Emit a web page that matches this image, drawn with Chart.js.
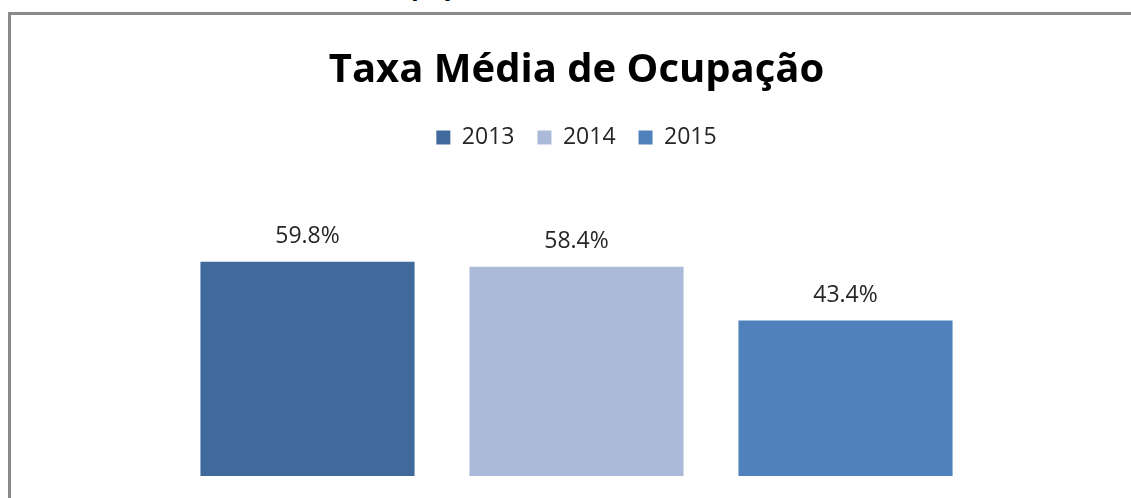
<!DOCTYPE html>
<html lang="pt">
  <head>
    <meta charset="UTF-8" />
    <title>Taxa Média de Ocupação</title>
    <script src="https://cdn.jsdelivr.net/npm/chart.js"></script>
    <style>
      html,
      body {
        margin: 0;
        padding: 0;
        width: 1131px;
        height: 498px;
        overflow: hidden;
        background: #fff;
        font-family: "Open Sans", sans-serif;
      }
      .frame {
        position: absolute;
        left: 8px;
        top: 12px;
        width: 2000px;
        height: 1000px;
        border-top: 3px solid #8a8a8a;
        border-left: 3px solid #8a8a8a;
      }
      .cut {
        position: absolute;
        left: 364px;
        top: -31px;
        font: bold 24px "Open Sans", sans-serif;
        color: #000;
        white-space: pre;
      }
      .cut span {
        position: absolute;
        right: 100%;
      }
      .chart-box {
        position: absolute;
        left: 0;
        top: 0;
        width: 1131px;
        height: 498px;
      }
    </style>
  </head>
  <body>
    <div class="cut"><span>Taxa Média de </span>Ocupação</div>
    <div class="frame"></div>
    <div class="chart-box">
      <canvas id="ocupacao"></canvas>
    </div>

    <script>
      const years = ["2013", "2014", "2015"];
      const occupancy = [59.8, 58.4, 43.4];
      const barColors = ["#406a9c", "#abbad8", "#4f81bd"];

      // draws the "59.8%" labels above each bar
      const valueLabels = {
        id: "valueLabels",
        afterDatasetsDraw(chart) {
          const ctx = chart.ctx;
          ctx.save();
          ctx.font = "23px 'Open Sans'";
          ctx.fillStyle = "#262626";
          ctx.textAlign = "center";
          ctx.textBaseline = "alphabetic";
          chart.data.datasets.forEach((ds, i) => {
            const bar = chart.getDatasetMeta(i).data[0];
            ctx.fillText(ds.data[0].toFixed(1) + "%", bar.x, bar.y - 19);
          });
          ctx.restore();
        },
      };

      new Chart(document.getElementById("ocupacao"), {
        type: "bar",
        data: {
          labels: ["Taxa"],
          datasets: years.map((y, i) => ({
            label: y,
            data: [occupancy[i]],
            backgroundColor: barColors[i],
            categoryPercentage: 1,
            barPercentage: 0.796,
          })),
        },
        options: {
          responsive: true,
          maintainAspectRatio: false,
          animation: false,
          layout: {
            padding: { left: 173, right: 151, top: 0, bottom: 22 },
          },
          plugins: {
            title: {
              display: true,
              text: "Taxa Média de Ocupação",
              color: "#000",
              font: { family: "Open Sans", size: 40, weight: "bold" },
              padding: { top: 47, bottom: 8 },
            },
            legend: {
              position: "top",
              labels: {
                color: "#262626",
                boxWidth: 14,
                boxHeight: 14,
                padding: 23,
                font: { family: "Open Sans", size: 23 },
              },
            },
            tooltip: { enabled: false },
          },
          scales: {
            x: { display: false },
            y: { display: false, min: 0, max: 88.5 },
          },
        },
        plugins: [valueLabels],
      });
    </script>
  </body>
</html>
